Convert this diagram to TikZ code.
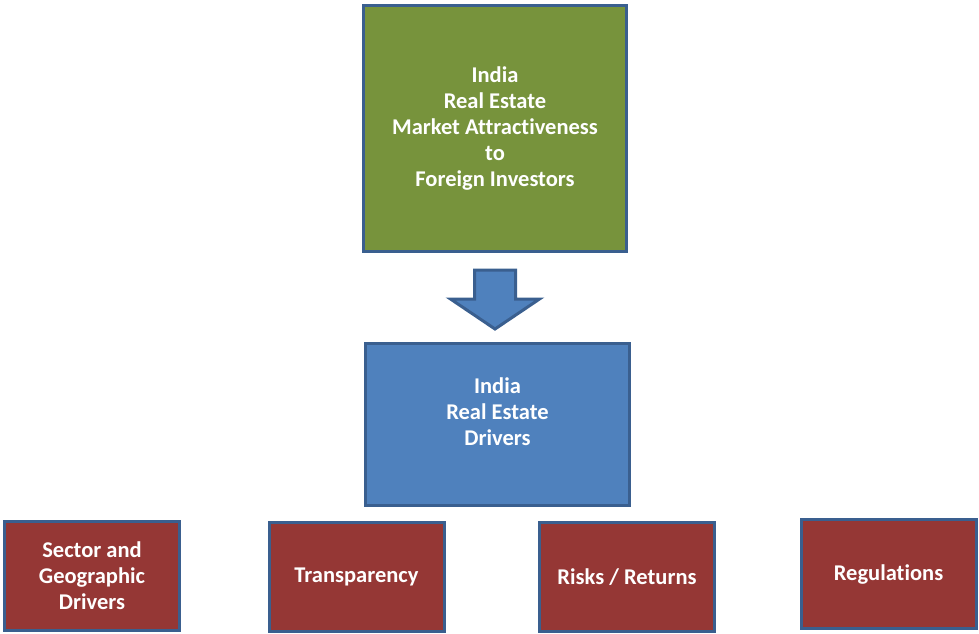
\documentclass[tikz,border=0pt]{standalone}
\usepackage{fontspec}
\setmainfont{Carlito}[Ligatures=NoCommon]
\usetikzlibrary{positioning}
\usetikzlibrary{calc}
\definecolor{boxline}{HTML}{3A5F8F}
\definecolor{marketgreen}{HTML}{77933C}
\definecolor{driversblue}{HTML}{4F81BD}
\definecolor{driverred}{HTML}{953735}

\begin{document}
\begin{tikzpicture}[
        x = 1pt, y = -1pt,
        box/.style = {draw = boxline, line width = 3pt, rectangle, text = white,
                      align = center, inner sep = 0pt,
                      font = \bfseries\fontsize{22.5}{26}\selectfont},
        market/.style = {box, fill = marketgreen, minimum width = 263pt, minimum height = 246pt},
        drivers/.style = {box, fill = driversblue, minimum width = 264pt, minimum height = 162pt},
        driver/.style = {box, fill = driverred, minimum width = 175pt, minimum height = 109pt},
        blockarrow/.style = {draw = boxline, fill = driversblue, line width = 3pt, line join = miter},
        ]
    \useasboundingbox (0,0) rectangle (979,633);

    \node[market] (market) at (495,128.5)
        {India\\Real Estate\\Market Attractiveness\\to\\Foreign Investors};
    \node[drivers] (drivers) at (497.5,424.5) {India\\Real Estate\\Drivers\\~};

    % the four groups of drivers
    \node[driver] (sector) at (92,576) {Sector and\\Geographic\\Drivers};
    \node[driver] (transparency) at (356.5,577) {Transparency};
    \node[driver] (risks) at (627,577) {Risks / Returns};
    \node[driver] (regulations) at (888.5,574) {Regulations};

    % block arrow from market to drivers
    \coordinate (arrowtop) at ($(market.south)+(0,17)$);
    \draw[blockarrow] ($(arrowtop)+(-20.5,0)$) -- ++(41,0) -- ++(0,29) -- ++(24,0)
        -- ($(arrowtop)+(0,59)$) -- ($(arrowtop)+(-44.5,29)$) -- ++(24,0) -- cycle;
\end{tikzpicture}
\end{document}
